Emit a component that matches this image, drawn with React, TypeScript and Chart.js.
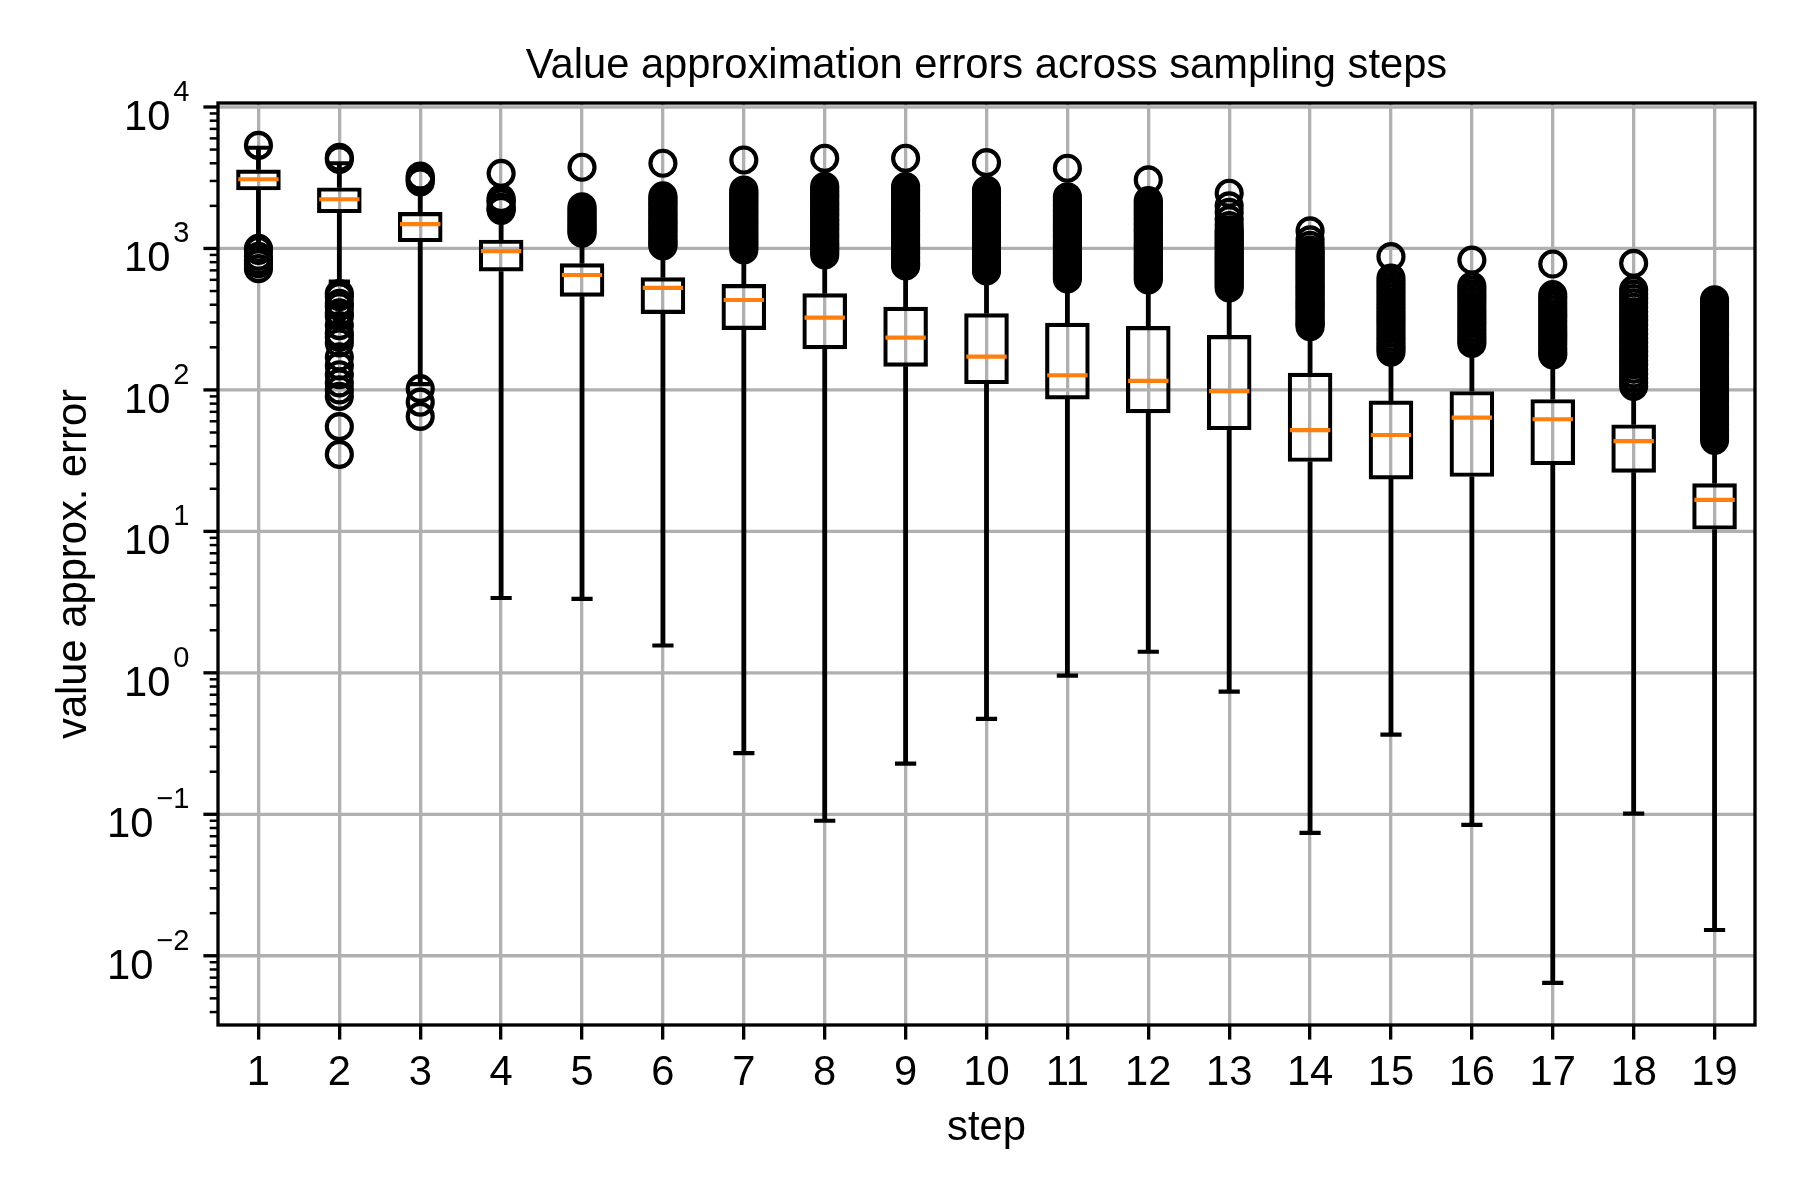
import React, { useEffect, useRef } from 'react';
import { Chart, registerables } from 'chart.js';

Chart.register(...registerables);

// ---------------- data ----------------
const steps = ['1', '2', '3', '4', '5', '6', '7', '8', '9', '10', '11', '12', '13', '14', '15', '16', '17', '18', '19'];

const q1Values = [2576, 1778, 1109, 687, 456, 344, 265, 194, 146, 110, 85.7, 68.4, 52, 31, 23.3, 24.3, 29.4, 26, 10.3];
const medianValues = [3083, 2228, 1486, 957, 649, 527, 432, 324, 234, 172, 127, 116, 98, 52, 48, 63.7, 62, 43.5, 16.7];
const q3Values = [3614, 2700, 1811, 1153, 785, 625, 561, 482, 387, 348, 298, 283, 244, 132, 84, 98, 86, 57, 21.9];
const whiskerLow = [1030, 583, 110, 3.38, 3.33, 1.56, 0.271, 0.09, 0.228, 0.473, 0.955, 1.41, 0.737, 0.074, 0.366, 0.0843, 0.00644, 0.101, 0.0152];
const whiskerHigh = [5150, 4000, 2650, 1700, 1250, 1000, 960, 880, 720, 680, 590, 580, 510, 270, 175, 200, 170, 100, 40];

const fliers: number[][] = [
  [5350, 1000, 970, 880, 820, 780, 720],
  [4400, 4250, 480, 456, 410, 387, 350, 330, 285, 250, 235, 215, 171, 148, 128, 112, 100, 90, 55, 35],
  [3250, 3150, 3050, 2950, 102, 82, 65],
  [3390, 2250, 2180, 2100, 1950, 1900, 1860],
  [3750, 1970, 1890, 1810, 1740, 1670, 1600, 1540, 1480, 1420, 1370, 1320, 1280],
  [4000, 2350, 2260, 2170, 2080, 2000, 1920, 1840, 1770, 1700, 1630, 1570, 1510, 1450, 1390, 1340, 1290, 1240, 1190, 1140, 1100, 1060, 1040],
  [4220, 2590, 2480, 2390, 2290, 2200, 2110, 2030, 1950, 1870, 1800, 1730, 1660, 1590, 1530, 1470, 1410, 1350, 1300, 1250, 1200, 1150, 1100, 1060, 1020, 975],
  [4340, 2750, 2640, 2530, 2430, 2330, 2240, 2150, 2060, 1980, 1900, 1820, 1750, 1680, 1610, 1550, 1490, 1430, 1370, 1310, 1260, 1210, 1160, 1110, 1070, 1030, 985, 945, 900],
  [4340, 2740, 2630, 2520, 2420, 2320, 2230, 2140, 2050, 1970, 1890, 1820, 1740, 1670, 1610, 1540, 1480, 1420, 1370, 1310, 1260, 1210, 1160, 1110, 1070, 1030, 985, 945, 905, 870, 835, 800, 770, 752],
  [4040, 2590, 2480, 2390, 2290, 2200, 2110, 2030, 1950, 1870, 1800, 1730, 1660, 1590, 1530, 1470, 1410, 1350, 1300, 1250, 1200, 1150, 1100, 1060, 1020, 975, 935, 900, 865, 830, 795, 765, 735, 710, 693],
  [3690, 2320, 2230, 2140, 2050, 1970, 1890, 1820, 1740, 1670, 1610, 1540, 1480, 1420, 1370, 1310, 1260, 1210, 1160, 1110, 1070, 1030, 985, 945, 905, 870, 835, 800, 770, 740, 710, 680, 655, 630, 608],
  [3050, 2180, 2100, 2010, 1930, 1850, 1780, 1710, 1640, 1580, 1510, 1450, 1390, 1340, 1290, 1240, 1190, 1140, 1090, 1050, 1010, 970, 930, 895, 860, 825, 790, 760, 730, 700, 675, 650, 620, 598],
  [2455, 2000, 1800, 1600, 1450, 1350, 1300, 1250, 1200, 1150, 1100, 1060, 1020, 980, 940, 900, 865, 830, 795, 765, 735, 705, 675, 650, 625, 600, 575, 550, 525],
  [1330, 1150, 1050, 975, 935, 900, 865, 830, 795, 765, 735, 705, 675, 650, 625, 600, 575, 550, 530, 510, 490, 470, 450, 430, 415, 400, 385, 370, 355, 340, 325, 312, 300, 290, 280],
  [875, 618, 575, 540, 505, 475, 445, 418, 392, 368, 345, 324, 304, 285, 268, 252, 236, 222, 208, 196, 185],
  [828, 543, 510, 478, 450, 422, 396, 372, 350, 328, 308, 290, 272, 256, 240, 226, 213],
  [776, 471, 442, 416, 391, 367, 345, 324, 305, 286, 269, 253, 238, 223, 210, 197, 185, 177],
  [785, 511, 476, 443, 412, 384, 357, 332, 309, 288, 268, 249, 232, 216, 201, 187, 174, 162, 151, 140, 130, 121, 113, 106],
  [433, 414, 396, 379, 362, 346, 331, 317, 303, 290, 277, 265, 253, 242, 232, 222, 212, 203, 194, 186, 178, 170, 162, 155, 149, 142, 136, 130, 124, 119, 114, 109, 104, 99, 95, 91, 87, 83, 79, 76, 73, 70, 67, 64, 61, 58, 56, 53, 51, 49, 46, 44],
];

const yMin = 0.00324;
const yMax = 10670;
const yMajorTicks = [0.01, 0.1, 1, 10, 100, 1000, 10000];
const yTickBase = '10';
const yTickExponents = ['\u22122', '\u22121', '0', '1', '2', '3', '4'];
const yMinorDecades = [0.001, 0.01, 0.1, 1, 10, 100, 1000, 10000];
const yMinorMultipliers = [2, 3, 4, 5, 6, 7, 8, 9];

const titleText = 'Value approximation errors across sampling steps';
const xLabelText = 'step';
const yLabelText = 'value approx. error';

// ---------------- styling ----------------
const FONT = '"Liberation Sans", Arial, Helvetica, sans-serif';
const LW = 4.17; // 1pt at 300 dpi
const GRID_LW = 3.33;
const GRID_COLOR = '#b0b0b0';

const decorPlugin = {
  id: 'decor',
  beforeDraw(chart: any) {
    const { ctx, width, height } = chart;
    ctx.save();
    ctx.fillStyle = '#ffffff';
    ctx.fillRect(0, 0, width, height);
    ctx.restore();
  },
  beforeDatasetsDraw(chart: any) {
    const { ctx, chartArea, scales } = chart;
    const y = scales.y;
    ctx.save();
    ctx.strokeStyle = GRID_COLOR;
    ctx.lineWidth = GRID_LW;
    yMajorTicks.forEach((v) => {
      const py = y.getPixelForValue(v);
      ctx.beginPath();
      ctx.moveTo(chartArea.left, py);
      ctx.lineTo(chartArea.right, py);
      ctx.stroke();
    });
    ctx.restore();
  },
  afterDatasetsDraw(chart: any) {
    const { ctx, chartArea, scales } = chart;
    const { left, right, top, bottom } = chartArea;
    const x = scales.x;
    const y = scales.y;
    ctx.save();

    // y tick marks
    ctx.strokeStyle = '#000';
    ctx.lineWidth = GRID_LW;
    yMajorTicks.forEach((v) => {
      const py = y.getPixelForValue(v);
      ctx.beginPath();
      ctx.moveTo(left, py);
      ctx.lineTo(left - 14.6, py);
      ctx.stroke();
    });
    ctx.lineWidth = 2.5;
    yMinorDecades.forEach((d) => {
      yMinorMultipliers.forEach((m) => {
        const v = d * m;
        if (v < yMin || v > yMax) return;
        const py = y.getPixelForValue(v);
        ctx.beginPath();
        ctx.moveTo(left, py);
        ctx.lineTo(left - 8.3, py);
        ctx.stroke();
      });
    });

    // spines
    ctx.lineWidth = GRID_LW;
    ctx.strokeRect(left, top, right - left, bottom - top);

    // y tick labels: 10^k
    ctx.fillStyle = '#000';
    ctx.textBaseline = 'alphabetic';
    const rightEdge = 189.5;
    yMajorTicks.forEach((v, i) => {
      const py = y.getPixelForValue(v);
      ctx.font = `29px ${FONT}`;
      const exp = yTickExponents[i];
      const we = ctx.measureText(exp).width;
      ctx.textAlign = 'right';
      ctx.fillText(exp, rightEdge, py - 6);
      ctx.font = `41.7px ${FONT}`;
      ctx.fillText(yTickBase, rightEdge - we - 3, py + 23);
    });

    // x tick labels
    ctx.font = `41.7px ${FONT}`;
    ctx.textAlign = 'center';
    steps.forEach((s, i) => {
      const px = x.getPixelForValue(i);
      ctx.fillText(s, px, 1084.5);
    });

    // title and axis labels
    ctx.fillText(titleText, (left + right) / 2, 78);
    ctx.fillText(xLabelText, (left + right) / 2, 1140);
    ctx.save();
    ctx.translate(85.5, (top + bottom) / 2);
    ctx.rotate(-Math.PI / 2);
    ctx.fillText(yLabelText, 0, 0);
    ctx.restore();

    ctx.restore();
  },
};

export default function App() {
  const canvasRef = useRef<HTMLCanvasElement | null>(null);

  useEffect(() => {
    const canvas = canvasRef.current;
    if (!canvas) return;

    const boxData = steps.map((_, i) => [q1Values[i], q3Values[i]]);
    const lowerWhiskerData = steps.map((_, i) => [whiskerLow[i], q1Values[i]]);
    const upperWhiskerData = steps.map((_, i) => [q3Values[i], whiskerHigh[i]]);
    const capData = steps.flatMap((s, i) => [
      { x: s, y: whiskerLow[i] },
      { x: s, y: whiskerHigh[i] },
    ]);
    const medianData = steps.map((s, i) => ({ x: s, y: medianValues[i] }));
    const flierData = steps.flatMap((s, i) => fliers[i].map((v) => ({ x: s, y: v })));

    const chart = new Chart(canvas, {
      type: 'bar',
      data: {
        labels: steps,
        datasets: [
          {
            type: 'bar',
            label: 'box',
            data: boxData as any,
            backgroundColor: 'rgba(0,0,0,0)',
            borderColor: '#000',
            borderWidth: LW,
            borderSkipped: false,
            barPercentage: 0.551,
            categoryPercentage: 1,
            grouped: false,
            order: 4,
          } as any,
          {
            type: 'bar',
            label: 'lower whisker',
            data: lowerWhiskerData as any,
            backgroundColor: '#000',
            borderWidth: 0,
            barThickness: LW,
            grouped: false,
            order: 3,
          } as any,
          {
            type: 'bar',
            label: 'upper whisker',
            data: upperWhiskerData as any,
            backgroundColor: '#000',
            borderWidth: 0,
            barThickness: LW,
            grouped: false,
            order: 3,
          } as any,
          {
            type: 'scatter',
            label: 'caps',
            data: capData as any,
            pointStyle: 'line',
            pointRadius: 10.6,
            pointBorderWidth: LW,
            pointBorderColor: '#000',
            borderColor: '#000',
            showLine: false,
            order: 2,
          } as any,
          {
            type: 'scatter',
            label: 'medians',
            data: medianData as any,
            pointStyle: 'line',
            pointRadius: 20.2,
            pointBorderWidth: LW,
            pointBorderColor: '#ff7f0e',
            borderColor: '#ff7f0e',
            showLine: false,
            order: 1,
          } as any,
          {
            type: 'scatter',
            label: 'fliers',
            data: flierData as any,
            pointStyle: 'circle',
            pointRadius: 12.5,
            pointBorderWidth: LW,
            pointBorderColor: '#000',
            pointBackgroundColor: 'rgba(0,0,0,0)',
            borderColor: '#000',
            showLine: false,
            order: 0,
          } as any,
        ],
      },
      options: {
        animation: false,
        responsive: false,
        maintainAspectRatio: false,
        devicePixelRatio: 1,
        events: [],
        layout: { padding: { left: 0, right: 45, top: 103, bottom: 0 } },
        plugins: {
          legend: { display: false },
          title: { display: false },
          tooltip: { enabled: false },
        },
        scales: {
          x: {
            type: 'category',
            offset: true,
            grid: {
              display: true,
              color: GRID_COLOR,
              lineWidth: GRID_LW,
              offset: false,
              drawTicks: true,
              tickLength: 14.6,
              tickColor: '#000',
              tickWidth: GRID_LW,
            },
            border: { display: false },
            ticks: { display: false },
            afterFit: (s: any) => {
              s.height = 175;
            },
          },
          y: {
            type: 'logarithmic',
            min: yMin,
            max: yMax,
            grid: { display: false },
            border: { display: false },
            ticks: { display: false },
            afterFit: (s: any) => {
              s.width = 218;
            },
          },
        },
      } as any,
      plugins: [decorPlugin],
    });

    return () => {
      chart.destroy();
    };
  }, []);

  return (
    <div style={{ position: 'fixed', left: 0, top: 0, width: 1800, height: 1200, background: '#fff' }}>
      <canvas ref={canvasRef} width={1800} height={1200} style={{ display: 'block', width: 1800, height: 1200 }} />
    </div>
  );
}
